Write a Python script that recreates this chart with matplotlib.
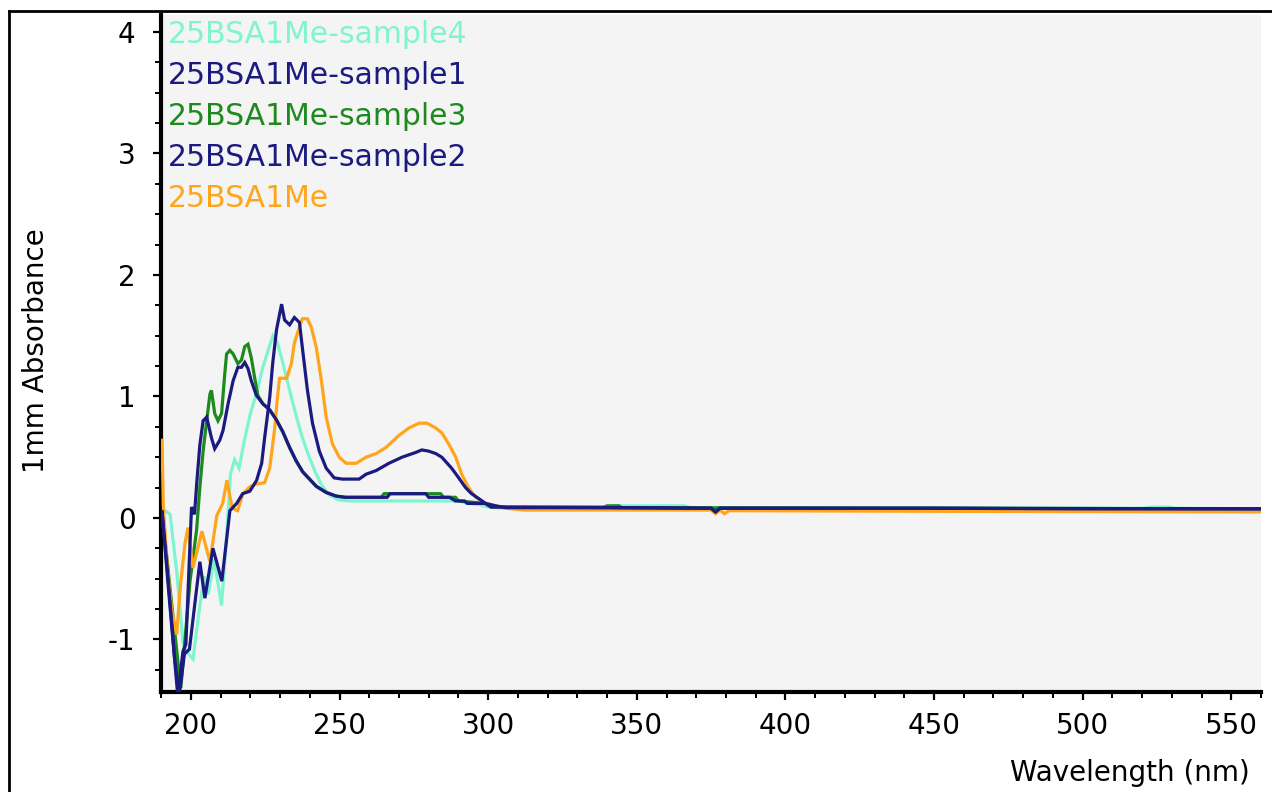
import matplotlib
matplotlib.use("Agg")
import matplotlib.pyplot as plt
from matplotlib.ticker import MultipleLocator
from matplotlib.lines import Line2D

# ---------------- data (wavelength nm, 1mm absorbance) ----------------
wl_s4 = [190.3, 191.3, 193.0, 195.3, 197.3, 198.5, 200.7, 203.0, 204.5, 205.8, 207.8, 210.3,
         212.0, 213.3, 214.7, 216.2, 218.0, 220.0, 222.0, 224.2, 226.5, 227.6, 229.0, 231.0,
         233.0, 235.2, 237.5, 239.8, 242.0, 244.0, 246.5, 249.5, 253.0, 290.0, 293.0, 297.0,
         300.0, 305.0, 340.0, 342.0, 366.0, 368.0, 520.0, 523.0, 529.0, 531.0, 560.0]
ab_s4 = [0.05, 0.06, 0.03, -0.46, -1.02, -1.10, -1.16, -0.72, -0.48, -0.63, -0.34, -0.72,
         -0.15, 0.36, 0.48, 0.41, 0.64, 0.86, 1.02, 1.24, 1.42, 1.50, 1.45, 1.27,
         1.07, 0.86, 0.66, 0.50, 0.37, 0.27, 0.19, 0.15, 0.14, 0.14, 0.12, 0.11,
         0.09, 0.08, 0.085, 0.10, 0.10, 0.085, 0.08, 0.09, 0.09, 0.08, 0.075]

wl_s1 = [190.3, 192.5, 194.5, 196.0, 197.8, 199.5, 203.0, 204.7, 207.4, 210.4, 213.1, 215.4,
         217.4, 219.8, 222.1, 223.8, 224.8, 226.5, 227.5, 228.8, 230.5, 231.5, 233.2, 234.8,
         236.5, 237.5, 239.2, 240.9, 243.2, 245.5, 248.2, 250.9, 256.6, 258.9, 262.3, 266.6,
         271.0, 275.7, 277.7, 280.0, 282.4, 284.4, 287.7, 290.1, 292.4, 294.4, 296.8, 299.1,
         302.5, 306.0, 340.0, 375.0, 376.5, 378.0, 450.0, 500.0, 560.0]
ab_s1 = [0.05, -0.55, -1.15, -1.47, -1.12, -1.08, -0.36, -0.66, -0.25, -0.52, 0.06, 0.12,
         0.20, 0.22, 0.31, 0.45, 0.66, 0.99, 1.27, 1.55, 1.76, 1.63, 1.59, 1.65,
         1.61, 1.40, 1.05, 0.78, 0.55, 0.41, 0.33, 0.32, 0.32, 0.36, 0.39, 0.45,
         0.50, 0.54, 0.56, 0.55, 0.53, 0.50, 0.41, 0.33, 0.25, 0.20, 0.16, 0.12,
         0.10, 0.085, 0.085, 0.08, 0.05, 0.08, 0.08, 0.075, 0.075]

wl_s3 = [190.3, 193.5, 196.6, 199.7, 201.9, 203.0, 204.1, 205.3, 206.4, 206.9, 208.0, 209.1,
         210.3, 211.4, 212.0, 213.1, 214.2, 215.8, 217.0, 218.1, 219.2, 220.3, 221.4, 222.5,
         224.2, 226.5, 228.7, 230.9, 233.2, 235.4, 237.6, 239.9, 242.2, 245.5, 248.9, 252.0,
         264.0, 265.0, 284.0, 285.0, 289.0, 290.0, 299.0, 301.0, 339.0, 340.0, 344.0, 345.0,
         560.0]
ab_s3 = [0.05, -0.70, -1.40, -0.52, -0.10, 0.25, 0.55, 0.80, 1.02, 1.05, 0.86, 0.80,
         0.86, 1.19, 1.35, 1.38, 1.35, 1.27, 1.30, 1.41, 1.43, 1.32, 1.16, 1.01,
         0.94, 0.89, 0.81, 0.71, 0.58, 0.47, 0.38, 0.32, 0.26, 0.21, 0.18, 0.17,
         0.17, 0.20, 0.20, 0.17, 0.17, 0.14, 0.12, 0.09, 0.09, 0.10, 0.10, 0.085,
         0.075]

wl_s2 = [190.3, 192.5, 195.6, 197.3, 198.3, 200.2, 201.2, 202.0, 203.0, 204.1, 205.3, 206.9,
         208.0, 209.7, 210.8, 212.5, 214.2, 215.8, 217.0, 218.1, 219.2, 220.3, 222.0, 224.2,
         226.5, 228.7, 230.9, 233.2, 235.4, 237.6, 239.9, 242.2, 245.5, 248.9, 252.0, 266.0,
         267.0, 279.0, 280.0, 287.0, 289.0, 292.0, 293.0, 299.0, 301.0, 340.0, 375.0, 376.5,
         378.0, 450.0, 560.0]
ab_s2 = [0.05, -0.60, -1.47, -1.10, -1.04, 0.09, 0.03, 0.30, 0.60, 0.80, 0.83, 0.66,
         0.57, 0.64, 0.72, 0.94, 1.13, 1.24, 1.24, 1.28, 1.23, 1.13, 1.01, 0.94,
         0.89, 0.81, 0.71, 0.58, 0.47, 0.38, 0.32, 0.26, 0.21, 0.18, 0.17, 0.17,
         0.20, 0.20, 0.17, 0.17, 0.14, 0.14, 0.12, 0.12, 0.09, 0.085, 0.08, 0.05,
         0.08, 0.08, 0.075]

wl_ref = [190.3, 190.7, 191.9, 193.5, 195.2, 196.5, 198.0, 199.0, 200.7, 203.7, 206.4, 208.7,
          210.7, 212.1, 213.9, 215.7, 217.5, 220.0, 222.1, 224.8, 226.5, 228.1, 229.1, 229.8,
          232.2, 233.8, 234.8, 236.5, 237.5, 239.2, 240.5, 242.2, 243.9, 245.5, 247.6, 249.9,
          252.2, 255.6, 258.9, 262.3, 265.6, 270.0, 273.3, 276.7, 279.4, 282.4, 284.4, 286.7,
          289.1, 291.1, 293.4, 295.8, 299.1, 302.5, 306.0, 312.0, 375.0, 376.5, 378.0, 379.5,
          381.0, 450.0, 560.0]
ab_ref = [0.64, 0.10, -0.36, -0.75, -0.96, -0.55, -0.21, -0.08, -0.41, -0.11, -0.36, 0.02,
          0.12, 0.31, 0.08, 0.06, 0.20, 0.26, 0.28, 0.29, 0.41, 0.72, 0.99, 1.15,
          1.15, 1.27, 1.44, 1.57, 1.64, 1.64, 1.57, 1.40, 1.13, 0.83, 0.61, 0.50,
          0.45, 0.45, 0.50, 0.53, 0.58, 0.68, 0.74, 0.78, 0.78, 0.74, 0.70, 0.61,
          0.50, 0.36, 0.25, 0.17, 0.12, 0.10, 0.08, 0.065, 0.065, 0.035, 0.065, 0.035,
          0.06, 0.055, 0.05]

labels = ["25BSA1Me-sample4", "25BSA1Me-sample1", "25BSA1Me-sample3",
          "25BSA1Me-sample2", "25BSA1Me"]
colors = ["#7ff5cf", "#1a1a80", "#1e8a1e", "#1a1a80", "#ffa51c"]
series = [(wl_s4, ab_s4), (wl_s1, ab_s1), (wl_s3, ab_s3), (wl_s2, ab_s2), (wl_ref, ab_ref)]
zorders = [2, 5, 3, 4, 3.5]

# ---------------- figure ----------------
plt.rcParams["font.family"] = ["DejaVu Sans"]
plt.rcParams["axes.unicode_minus"] = False
fig = plt.figure(figsize=(12.72, 7.92), dpi=100)
ax = fig.add_axes([161.2 / 1272, 1 - 691.7 / 792, 1099.8 / 1272, (691.7 - 15) / 792])
ax.set_facecolor("#f4f4f4")

handles = []
for (x, y), lab, c, z in zip(series, labels, colors, zorders):
    h, = ax.plot(x, y, color=c, lw=2.3, label=lab, zorder=z, solid_joinstyle="miter")
    handles.append(h)

ax.set_xlim(190, 560)
ax.set_ylim(-1.43, 4.14)
ax.xaxis.set_major_locator(MultipleLocator(50))
ax.xaxis.set_minor_locator(MultipleLocator(10))
ax.yaxis.set_major_locator(MultipleLocator(1))
ax.yaxis.set_minor_locator(MultipleLocator(0.25))

for s in ["top", "right"]:
    ax.spines[s].set_visible(False)
for s in ["left", "bottom"]:
    ax.spines[s].set_linewidth(3.0)
    ax.spines[s].set_color("black")

ax.tick_params(axis="both", which="major", direction="out", length=5.5, width=1.6,
               labelsize=20, color="black")
ax.tick_params(axis="both", which="minor", direction="out", length=4, width=1.4, color="black")
ax.tick_params(axis="y", which="major", pad=13)
ax.tick_params(axis="x", which="major", pad=9)

ax.set_xlabel("Wavelength (nm)", fontsize=20, ha="right", va="center")
ax.xaxis.set_label_coords(0.990, -0.120)
ax.set_ylabel("1mm Absorbance", fontsize=20, va="center", ha="center")
ax.yaxis.set_label_coords(-0.1138, 0.5035)

leg = ax.legend(handles=handles, labels=labels, loc="upper left", bbox_to_anchor=(0.006, 0.993),
                frameon=False, handlelength=0, handletextpad=0, labelcolor="linecolor",
                fontsize=21.5, borderaxespad=0, borderpad=0, labelspacing=0.4)
for h in leg.legend_handles:
    h.set_visible(False)

# outer frame of the original screenshot
fig.add_artist(Line2D([9 / 1272, 9 / 1272], [0, 1 - 11 / 792], transform=fig.transFigure,
                      color="black", lw=2))
fig.add_artist(Line2D([9 / 1272, 1], [1 - 11 / 792, 1 - 11 / 792], transform=fig.transFigure,
                      color="black", lw=2))

fig.savefig("out.png", dpi=100)
